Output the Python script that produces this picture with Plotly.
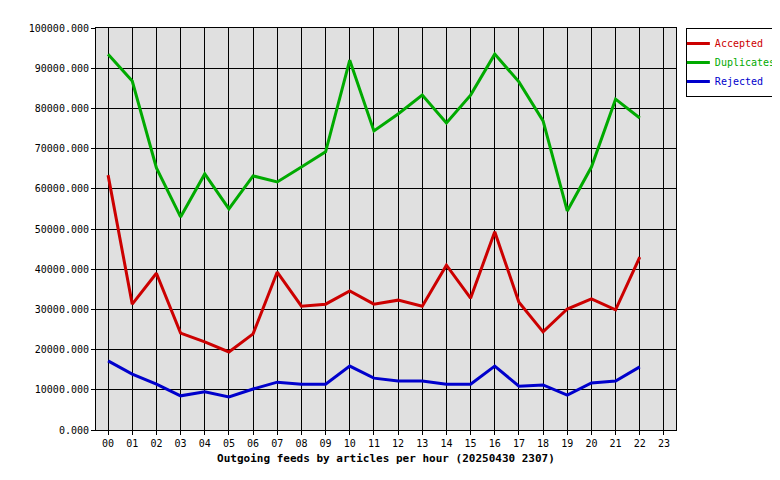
import plotly.graph_objects as go

hours = [f"{h:02d}" for h in range(24)]
accepted = [63400, 31300, 39000, 24100, 21900, 19400, 23900, 39300, 30800, 31300, 34600, 31300,
            32300, 30800, 41000, 32800, 49300, 31800, 24400, 30100, 32600, 29900, 43000]
duplicates = [93500, 86800, 65200, 53000, 63700, 55000, 63200, 61700, 65400, 69200, 92000, 74400,
              78600, 83300, 76400, 83300, 93500, 86600, 76900, 54500, 65400, 82300, 77600]
rejected = [17200, 13900, 11400, 8500, 9500, 8200, 10200, 11900, 11400, 11400, 15900, 12900,
            12200, 12200, 11400, 11400, 15900, 10900, 11200, 8700, 11700, 12200, 15700]

series = [("Accepted", accepted, "#cc0000"),
          ("Duplicates", duplicates, "#00aa00"),
          ("Rejected", rejected, "#0000cc")]

fig = go.Figure()
for name, vals, color in series:
    fig.add_trace(go.Scatter(
        x=hours[:len(vals)], y=vals, mode="lines",
        name=f'<span style="color:{color}">{name}</span>',
        line=dict(color=color, width=3)))

font = "DejaVu Sans Mono, monospace"
fig.update_layout(
    width=780, height=480,
    margin=dict(l=88, r=112, t=20, b=58, autoexpand=False),
    paper_bgcolor="white", plot_bgcolor="#e0e0e0",
    font=dict(family=font, size=10, color="black"),
    legend=dict(x=1.017, y=1, xanchor="left", yanchor="top",
                bordercolor="black", borderwidth=1, bgcolor="white",
                font=dict(size=10), itemwidth=30, tracegroupgap=0,
                indentation=-12),
    xaxis=dict(type="category", categoryarray=hours, range=[-0.5, 23.5],
               showgrid=True, gridcolor="black", gridwidth=1,
               showline=True, linecolor="black", mirror=True,
               ticks="outside", ticklen=4, tickcolor="black",
               title=dict(text="<b>Outgoing feeds by articles per hour (20250430 2307)</b>",
                          font=dict(size=11), standoff=6)),
    yaxis=dict(range=[0, 100000], dtick=10000, tickformat=".3f",
               showgrid=True, gridcolor="black", gridwidth=1,
               showline=True, linecolor="black", mirror=True,
               ticks="outside", ticklen=4, tickcolor="black", zeroline=False),
)

fig.write_html("out.html")
